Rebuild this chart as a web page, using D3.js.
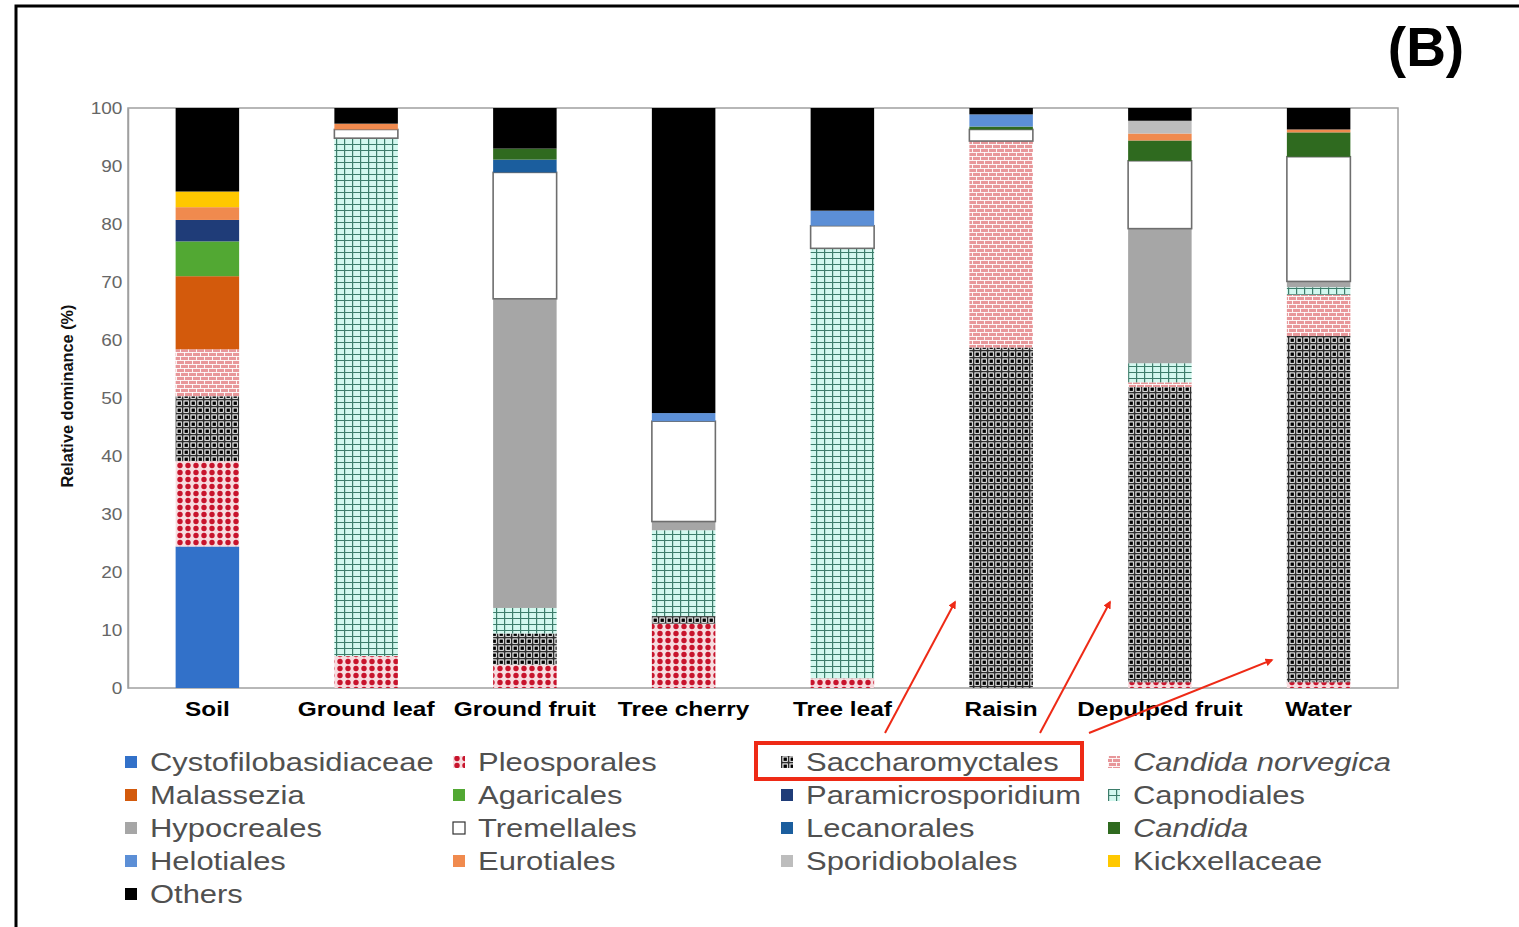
<!DOCTYPE html>
<html>
<head>
<meta charset="utf-8">
<script src="https://cdn.jsdelivr.net/npm/d3@7"></script>
<style>
  html, body { margin: 0; padding: 0; background: #fff; }
  svg { display: block; }
</style>
</head>
<body>
<script>
// ---------------- DATA ----------------
const categories = ["Soil", "Ground leaf", "Ground fruit", "Tree cherry", "Tree leaf", "Raisin", "Depulped fruit", "Water"];

const seriesNames = [
  "Cystofilobasidiaceae", "Pleosporales", "Saccharomyctales", "Candida norvegica",
  "Malassezia", "Agaricales", "Paramicrosporidium", "Capnodiales",
  "Hypocreales", "Tremellales", "Lecanorales", "Candida",
  "Helotiales", "Eurotiales", "Sporidiobolales", "Kickxellaceae",
  "Others"
];
const italicSeries = ["Candida norvegica", "Candida"];

// values per category, in seriesNames order (relative dominance %)
const soil          = [24.4, 14.7, 11.2, 8.1, 12.6, 6.0, 3.7, 0, 0, 0, 0, 0, 0, 2.2, 0, 2.7, 14.4];
const groundLeaf    = [0, 5.5, 0, 0, 0, 0, 0, 89.3, 0, 1.5, 0, 0, 0, 1.0, 0, 0, 2.7];
const groundFruit   = [0, 4.0, 5.4, 0, 0, 0, 0, 4.4, 53.3, 21.8, 2.2, 1.9, 0, 0, 0, 0, 7.0];
const treeCherry    = [0, 11.1, 1.3, 0, 0, 0, 0, 14.8, 1.5, 17.3, 0, 0, 1.4, 0, 0, 0, 52.6];
const treeLeaf      = [0, 1.7, 0, 0, 0, 0, 0, 74.1, 0, 3.9, 0, 0, 2.6, 0, 0, 0, 17.7];
const raisin        = [0, 0, 58.7, 35.6, 0, 0, 0, 0, 0, 2.0, 0, 0.5, 2.1, 0, 0, 0, 1.1];
const depulpedFruit = [0, 1.0, 50.9, 0.8, 0, 0, 0, 3.3, 23.2, 11.7, 0, 3.5, 0, 1.2, 2.2, 0, 2.2];
const water         = [0, 1.0, 59.7, 7.1, 0, 0, 0, 1.3, 1.0, 21.5, 0, 4.2, 0, 0.5, 0, 0, 3.7];
const valuesByCategory = [soil, groundLeaf, groundFruit, treeCherry, treeLeaf, raisin, depulpedFruit, water];

const yTicks = [0, 10, 20, 30, 40, 50, 60, 70, 80, 90, 100];

// ---------------- STYLE ----------------
const solidColors = {
  "Cystofilobasidiaceae": "#3271c9",
  "Malassezia": "#d35a0c",
  "Agaricales": "#52a833",
  "Paramicrosporidium": "#1f3c78",
  "Hypocreales": "#a6a6a6",
  "Tremellales": "#ffffff",
  "Lecanorales": "#1b5e9e",
  "Candida": "#2f6a1f",
  "Helotiales": "#5c8fd6",
  "Eurotiales": "#f08a4e",
  "Sporidiobolales": "#bdbdbd",
  "Kickxellaceae": "#ffc800",
  "Others": "#000000"
};
const patternIds = {
  "Pleosporales": "pat-pleo",
  "Saccharomyctales": "pat-sacch",
  "Candida norvegica": "pat-cnorv",
  "Capnodiales": "pat-capno"
};
const fillOf = s => patternIds[s] ? `url(#${patternIds[s]})` : solidColors[s];
const FONT = "Liberation Sans, Arial, sans-serif";

const W = 1519, H = 927;
const plot = { left: 128, right: 1398, top: 108, bottom: 688 };

const svg = d3.select("body").append("svg").attr("width", W).attr("height", H);
const defs = svg.append("defs");

// Pleosporales: red dots
{
  const p = defs.append("pattern").attr("id", "pat-pleo").attr("patternUnits", "userSpaceOnUse")
    .attr("width", 8).attr("height", 7);
  p.append("rect").attr("width", 8).attr("height", 7).attr("fill", "#f7dcdf");
  p.append("circle").attr("cx", 4).attr("cy", 3.5).attr("r", 2.7).attr("fill", "#c8142c");
}
// Saccharomyctales: dark grid, white cells, black dots
{
  const p = defs.append("pattern").attr("id", "pat-sacch").attr("patternUnits", "userSpaceOnUse")
    .attr("width", 7).attr("height", 7);
  p.append("rect").attr("width", 7).attr("height", 7).attr("fill", "#2e2e2e");
  p.append("rect").attr("x", 1.4).attr("y", 1.4).attr("width", 5.4).attr("height", 5.4).attr("fill", "#ffffff");
  p.append("rect").attr("x", 2.5).attr("y", 2.5).attr("width", 3.4).attr("height", 3.4).attr("fill", "#000000");
}
// Candida norvegica: pink brick
{
  const p = defs.append("pattern").attr("id", "pat-cnorv").attr("patternUnits", "userSpaceOnUse")
    .attr("width", 8).attr("height", 8);
  p.append("rect").attr("width", 8).attr("height", 8).attr("fill", "#e8979a");
  p.append("rect").attr("x", 0).attr("y", 0).attr("width", 8).attr("height", 0.9).attr("fill", "#ffffff");
  p.append("rect").attr("x", 0).attr("y", 4).attr("width", 8).attr("height", 0.9).attr("fill", "#ffffff");
  p.append("rect").attr("x", 0).attr("y", 0).attr("width", 0.9).attr("height", 4).attr("fill", "#ffffff");
  p.append("rect").attr("x", 4).attr("y", 4).attr("width", 0.9).attr("height", 4).attr("fill", "#ffffff");
}
// Capnodiales: mint with dark teal grid
{
  const p = defs.append("pattern").attr("id", "pat-capno").attr("patternUnits", "userSpaceOnUse")
    .attr("width", 8).attr("height", 6);
  p.append("rect").attr("width", 8).attr("height", 6).attr("fill", "#d3f8ef");
  p.append("rect").attr("x", 0).attr("y", 0).attr("width", 1.2).attr("height", 6).attr("fill", "#3d7d6b");
  p.append("rect").attr("x", 0).attr("y", 0).attr("width", 8).attr("height", 1).attr("fill", "#3d7d6b");
}
// arrow marker
defs.append("marker").attr("id", "arrowhead").attr("viewBox", "0 0 10 10")
  .attr("refX", 8).attr("refY", 5).attr("markerWidth", 8).attr("markerHeight", 8)
  .attr("markerUnits", "userSpaceOnUse").attr("orient", "auto")
  .append("path").attr("d", "M0,0 L10,5 L0,10 z").attr("fill", "#ee2a16");

// outer frame (figure border)
svg.append("rect").attr("x", 16).attr("y", 6).attr("width", W + 20).attr("height", H + 20)
  .attr("fill", "none").attr("stroke", "#000").attr("stroke-width", 3);

// "(B)"
svg.append("text").attr("x", 1426).attr("y", 66).attr("text-anchor", "middle")
  .attr("font-family", FONT).attr("font-weight", "bold")
  .attr("font-size", 55).attr("fill", "#000").text("(B)");

// scales
const x = d3.scaleBand().domain(categories).range([plot.left, plot.right])
  .paddingInner(0.6).paddingOuter(0.3);
const y = d3.scaleLinear().domain([0, 100]).range([plot.bottom, plot.top]);

// plot frame
svg.append("rect").attr("x", plot.left).attr("y", plot.top)
  .attr("width", plot.right - plot.left).attr("height", plot.bottom - plot.top)
  .attr("fill", "none").attr("stroke", "#a0a0a0").attr("stroke-width", 1.5);

// stacked data
const rows = categories.map((c, i) => {
  const o = { category: c };
  seriesNames.forEach((s, j) => { o[s] = valuesByCategory[i][j]; });
  return o;
});
const stacked = d3.stack().keys(seriesNames)(rows);

const layers = svg.append("g").selectAll("g").data(stacked).join("g")
  .attr("fill", d => fillOf(d.key));
layers.each(function (layer) {
  const g = d3.select(this);
  const isTrem = layer.key === "Tremellales";
  g.selectAll("rect").data(layer.filter(d => d[1] - d[0] > 0)).join("rect")
    .attr("x", d => x(d.data.category))
    .attr("width", x.bandwidth())
    .attr("y", d => y(d[1]))
    .attr("height", d => y(d[0]) - y(d[1]))
    .attr("stroke", isTrem ? "#6e6e6e" : "none")
    .attr("stroke-width", isTrem ? 1.6 : 0);
});

// y axis
const yAxis = d3.axisLeft(y).tickValues(yTicks).tickSize(0).tickPadding(5);
const yg = svg.append("g").attr("transform", `translate(${plot.left},0)`).call(yAxis);
yg.select(".domain").attr("stroke", "#a0a0a0").attr("stroke-width", 1.5);
yg.selectAll("text").attr("font-family", FONT)
  .attr("font-size", 17).attr("fill", "#666").attr("transform", "scale(1.12,1)");

// y title
svg.append("text").attr("transform", "translate(73,396) rotate(-90)")
  .attr("text-anchor", "middle").attr("font-family", FONT).attr("font-weight", "bold")
  .attr("font-size", 17).attr("fill", "#111")
  .attr("textLength", 183).attr("lengthAdjust", "spacingAndGlyphs")
  .text("Relative dominance (%)");

// x axis labels
const xAxis = d3.axisBottom(x).tickSize(0).tickPadding(14);
const xg = svg.append("g").attr("transform", `translate(0,${plot.bottom})`).call(xAxis);
xg.select(".domain").remove();
xg.selectAll("text").attr("font-family", FONT)
  .attr("font-weight", "bold").attr("font-size", 20).attr("fill", "#000")
  .attr("transform", "scale(1.22,1)");

// legend
const legColX = [125, 453, 781, 1108];
const legRowY = [762, 795, 828, 861, 894];
const legend = svg.append("g");
seriesNames.forEach((s, i) => {
  const cx = legColX[i % 4], cy = legRowY[Math.floor(i / 4)];
  const g = legend.append("g").attr("transform", `translate(${cx},${cy})`);
  g.append("rect").attr("x", 0).attr("y", -6).attr("width", 12).attr("height", 12)
    .attr("fill", fillOf(s))
    .attr("stroke", s === "Tremellales" ? "#333" : "none").attr("stroke-width", 1.2);
  g.append("text").attr("transform", "translate(25,9) scale(1.19,1)")
    .attr("font-family", FONT).attr("font-size", 26)
    .attr("font-style", italicSeries.includes(s) ? "italic" : "normal")
    .attr("fill", "#505050").text(s);
});

// highlight box around Saccharomyctales
svg.append("rect").attr("x", 756).attr("y", 743).attr("width", 326).attr("height", 36)
  .attr("fill", "none").attr("stroke", "#ee2a16").attr("stroke-width", 4);

// annotation arrows (pointing to Saccharomyctales bars)
const arrowSpecs = [
  { from: [885, 733], to: [955, 602] },
  { from: [1040, 733], to: [1110, 602] },
  { from: [1089, 733], to: [1272, 660] }
];
svg.append("g").selectAll("line").data(arrowSpecs).join("line")
  .attr("x1", d => d.from[0]).attr("y1", d => d.from[1])
  .attr("x2", d => d.to[0]).attr("y2", d => d.to[1])
  .attr("stroke", "#ee2a16").attr("stroke-width", 2)
  .attr("marker-end", "url(#arrowhead)");
</script>
</body>
</html>
